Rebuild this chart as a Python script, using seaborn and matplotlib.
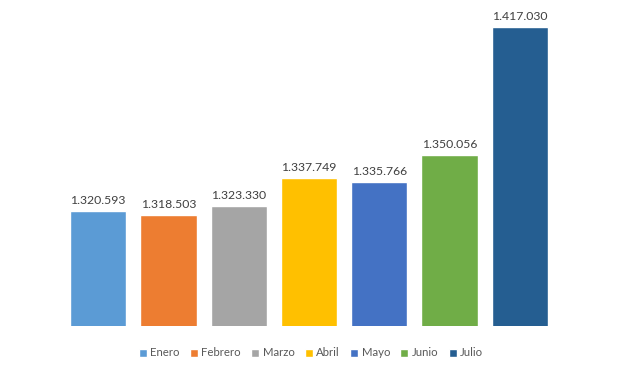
import matplotlib
matplotlib.use("Agg")
import matplotlib.pyplot as plt
import seaborn as sns
import pandas as pd
from matplotlib.patches import Patch

# Datos
meses = ["Enero", "Febrero", "Marzo", "Abril", "Mayo", "Junio", "Julio"]
valores = [1320593, 1318503, 1323330, 1337749, 1335766, 1350056, 1417030]
etiquetas = ["1.320.593", "1.318.503", "1.323.330", "1.337.749", "1.335.766", "1.350.056", "1.417.030"]
colores = ["#5B9BD5", "#ED7D31", "#A5A5A5", "#FFC000", "#4472C4", "#70AD47", "#255E91"]

df = pd.DataFrame({"mes": meses, "valor": valores})

sns.set_style("white")
plt.rcParams["font.family"] = ["Lato", "DejaVu Sans"]

fig = plt.figure(figsize=(6.2, 3.68), dpi=100)
ax = fig.add_axes([63 / 620, 42 / 368, 492 / 620, 326 / 368])

sns.barplot(data=df, x="mes", y="valor", hue="mes", palette=colores,
            dodge=False, width=0.8, legend=False, ax=ax, saturation=1)

ax.set_xlim(-0.5, 6.5)
ax.set_ylim(1260000, 1431400)

# Etiquetas de valor
for i, (v, t) in enumerate(zip(valores, etiquetas)):
    ax.annotate(t, (i, v), xytext=(0, 3.5), textcoords="offset points",
                ha="center", va="bottom", fontsize=8.8, color="#404040")

ax.set_xlabel("")
ax.set_ylabel("")
ax.set_xticks([])
ax.set_yticks([])
for s in ax.spines.values():
    s.set_visible(False)

# Leyenda
handles = [Patch(facecolor=c, label=m) for m, c in zip(meses, colores)]
fig.legend(handles=handles, loc="center", bbox_to_anchor=(311 / 620, 1 - 353 / 368),
           ncol=7, frameon=False, fontsize=8.2, handlelength=0.7, handleheight=0.7,
           handletextpad=0.3, columnspacing=0.9, labelcolor="#595959")

fig.savefig("out.png", dpi=100, facecolor="white")
